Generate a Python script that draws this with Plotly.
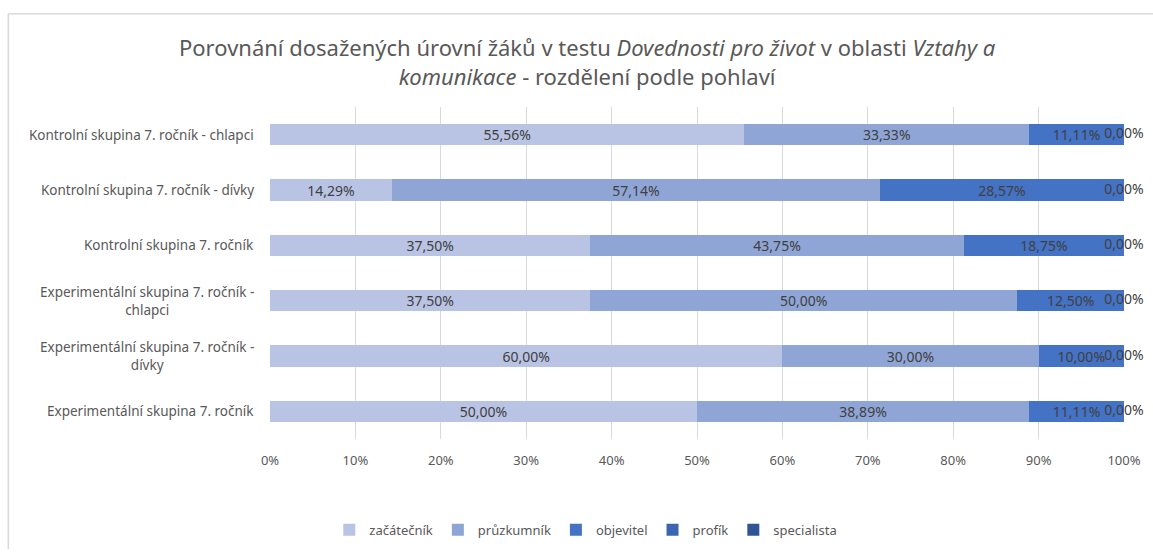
import plotly.graph_objects as go

categories = [
    "Kontrolní skupina 7. ročník - chlapci",
    "Kontrolní skupina 7. ročník - dívky",
    "Kontrolní skupina 7. ročník",
    "Experimentální skupina 7. ročník - chlapci",
    "Experimentální skupina 7. ročník - dívky",
    "Experimentální skupina 7. ročník",
]
category_labels = [
    "Kontrolní skupina 7. ročník - chlapci",
    "Kontrolní skupina 7. ročník - dívky",
    "Kontrolní skupina 7. ročník",
    "Experimentální skupina 7. ročník -<br>chlapci",
    "Experimentální skupina 7. ročník -<br>dívky",
    "Experimentální skupina 7. ročník",
]
zacatecnik = [55.56, 14.29, 37.50, 37.50, 60.00, 50.00]
pruzkumnik = [33.33, 57.14, 43.75, 50.00, 30.00, 38.89]
objevitel = [11.11, 28.57, 18.75, 12.50, 10.00, 11.11]
profik = [0.00, 0.00, 0.00, 0.00, 0.00, 0.00]
specialista = [0.00, 0.00, 0.00, 0.00, 0.00, 0.00]

series = [
    ("začátečník", zacatecnik, "#B9C3E3"),
    ("průzkumník", pruzkumnik, "#8FA5D5"),
    ("objevitel", objevitel, "#4472C4"),
    ("profík", profik, "#3B64B3"),
    ("specialista", specialista, "#2F5597"),
]

FONT = "Noto Sans"
W, H = 1153, 557
ML, MR, MT, MB = 270, 23, 107, 110
PW = W - ML - MR
PH = H - MT - MB

def px(x):  # page pixel -> paper x
    return (x - ML) / PW

def py(y):  # page pixel -> paper y
    return (H - MB - y) / PH

def fmt(v):
    return f"{v:.2f}".replace(".", ",") + "%"

fig = go.Figure()
for name, vals, col in series:
    show_text = name in ("začátečník", "průzkumník", "objevitel")
    fig.add_trace(go.Bar(
        y=categories, x=vals, name=name, orientation="h",
        marker=dict(color=col, line=dict(width=0)),
        text=[fmt(v) for v in vals] if show_text else None,
        textposition="inside" if show_text else "none",
        insidetextanchor="middle",
        textangle=0,
        constraintext="none",
        textfont=dict(family=FONT, size=14, color="#404040"),
        hoverinfo="skip",
    ))

# labels for the zero-width "profík" segments at the bar ends
ends = [a + b + c + p for a, b, c, p in zip(zacatecnik, pruzkumnik, objevitel, profik)]
fig.add_trace(go.Scatter(
    y=categories, x=ends, mode="text",
    text=[fmt(v) for v in profik],
    textposition="middle center",
    textfont=dict(family=FONT, size=14, color="#404040"),
    showlegend=False, hoverinfo="skip", cliponaxis=False,
))

annotations = [dict(
    text="Porovnání dosažených úrovní žáků v testu <i>Dovednosti pro život</i> v oblasti <i>Vztahy a</i><br><i>komunikace</i> - rozdělení podle pohlaví",
    x=px(590), y=py(60), xref="paper", yref="paper", xanchor="center", yanchor="middle",
    showarrow=False, align="center",
    font=dict(family=FONT, size=22, color="#595959"),
)]
for cat, lab in zip(categories, category_labels):
    annotations.append(dict(
        text=lab, x=px(256), y=cat, xref="paper", yref="y",
        xanchor="right", yanchor="middle", align="center", showarrow=False,
        font=dict(family=FONT, size=13.5, color="#595959"),
    ))

fig.update_layout(
    barmode="stack",
    bargap=0.61,
    width=W, height=H,
    margin=dict(l=ML, r=MR, t=MT, b=MB),
    paper_bgcolor="white", plot_bgcolor="white",
    showlegend=True,
    legend=dict(orientation="h", x=px(588), xanchor="center", y=py(540), yanchor="middle",
                font=dict(family=FONT, size=13, color="#595959"),
                traceorder="normal", itemwidth=30),
    xaxis=dict(range=[0, 100], dtick=10, ticksuffix="%", showgrid=True,
               gridcolor="#D9D9D9", gridwidth=1, zeroline=False,
               tickfont=dict(family=FONT, size=13, color="#595959"),
               showline=False, ticks="", ticklabelstandoff=12, fixedrange=True),
    yaxis=dict(categoryorder="array", categoryarray=categories, autorange="reversed",
               showticklabels=False, showgrid=False, ticks="", fixedrange=True),
    annotations=annotations,
    shapes=[
        dict(type="line", xref="paper", yref="paper", x0=px(6.5), x1=px(6.5), y0=py(560), y1=py(11.5),
             line=dict(color="#D9D9D9", width=1.5)),
        dict(type="line", xref="paper", yref="paper", x0=px(6.5), x1=px(1160), y0=py(11.5), y1=py(11.5),
             line=dict(color="#D9D9D9", width=1.5)),
    ],
)

fig.write_html(
    "out.html",
    config={"displayModeBar": False, "staticPlot": True},
    post_script="document.body.style.margin='0';document.body.style.overflow='hidden';",
)
